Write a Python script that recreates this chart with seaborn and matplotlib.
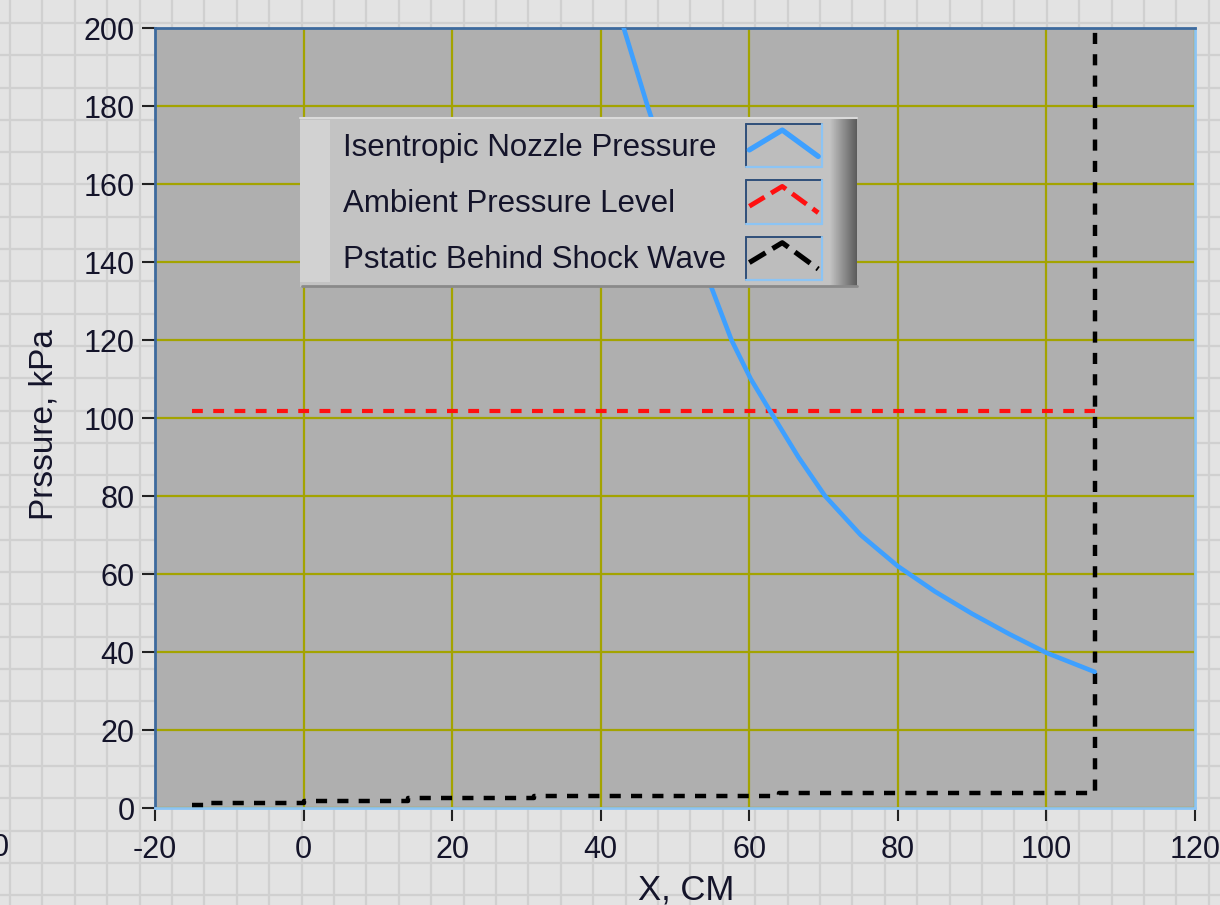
import seaborn as sns
import matplotlib.pyplot as plt
import pandas as pd
import numpy as np
from matplotlib.legend_handler import HandlerLine2D
from matplotlib.lines import Line2D
from matplotlib.patches import Rectangle

# isentropic nozzle pressure along the nozzle
nozzle_x = [43.1, 46.3, 49.8, 53.6, 57.6, 60.2, 62.8, 66.6, 70.2, 75.0, 80.0, 85.0, 90.0, 95.0, 100.0, 106.5]
nozzle_p = [200.0, 180.0, 160.0, 140.0, 120.0, 110.0, 101.8, 90.0, 80.0, 70.0, 62.0, 55.5, 49.8, 44.6, 39.8, 34.9]

# ambient pressure level
ambient_x = [-15.0, 106.5]
ambient_p = [101.8, 101.8]

# static pressure behind the shock wave (stepwise, then vertical at the exit)
shock_x = [-15.0, -13.0, 0.0, 14.0, 31.0, 64.0, 106.5, 106.5]
shock_p = [0.8, 1.3, 1.8, 2.5, 3.2, 3.8, 3.8, 200.0]

labels = ['Isentropic Nozzle Pressure', 'Ambient Pressure Level', 'Pstatic Behind Shock Wave']

df_noz = pd.DataFrame({'x': nozzle_x, 'p': nozzle_p})
df_amb = pd.DataFrame({'x': ambient_x, 'p': ambient_p})
df_sh = pd.DataFrame({'x': shock_x, 'p': shock_p})

sns.set_style('white')
plt.rcParams['font.family'] = ['Liberation Sans', 'DejaVu Sans']
plt.rcParams['axes.unicode_minus'] = False

W, H = 1220, 905
DPI = 100
fig = plt.figure(figsize=(W / DPI, H / DPI), dpi=DPI)
fig.patch.set_facecolor('#e3e3e3')

# panel background with its light grid
bg = fig.add_axes([0, 0, 1, 1], zorder=0)
bg.set_xlim(0, W)
bg.set_ylim(H, 0)
for gx in np.arange(10, W, 32.4):
    bg.axvline(gx, color='#d0d0d0', lw=1.6)
for gy in np.arange(23, H, 32.3):
    bg.axhline(gy, color='#d0d0d0', lw=1.6)
bg.axis('off')

ax = fig.add_axes([155 / W, 1 - 808 / H, (1195 - 155) / W, (808 - 28) / H], zorder=1)
ax.set_facecolor('#afafaf')

sns.lineplot(data=df_noz, x='x', y='p', ax=ax, color='#3ea0ff', lw=3.3,
             sort=False, estimator=None, label=labels[0], zorder=4)
sns.lineplot(data=df_amb, x='x', y='p', ax=ax, color='#ff1010', lw=3.0,
             linestyle=(0, (2.6, 2.5)), sort=False, estimator=None, label=labels[1], zorder=3)
sns.lineplot(data=df_sh, x='x', y='p', ax=ax, color='black', lw=3.2,
             linestyle=(0, (2.5, 2.3)), drawstyle='steps-post', sort=False, estimator=None,
             label=labels[2], zorder=3)

ax.set_xlim(-20, 120)
ax.set_ylim(0, 200)
ax.set_xticks(np.arange(-20, 121, 20))
ax.set_yticks(np.arange(0, 201, 20))
ax.grid(True, color='#a3a300', lw=1.6)
ax.set_axisbelow(True)
ax.tick_params(axis='both', which='major', bottom=True, left=True, direction='out',
               width=1.5, color='#222222', labelsize=22, labelcolor='#14142a')
ax.tick_params(axis='y', length=9.5, pad=5.0)
ax.tick_params(axis='x', length=9.5, pad=10.0)

for side in ['left', 'top']:
    ax.spines[side].set_color('#3d6a9e')
    ax.spines[side].set_linewidth(2)
for side in ['right', 'bottom']:
    ax.spines[side].set_color('#8cc4f4')
    ax.spines[side].set_linewidth(2)

ax.set_xlabel('X, CM', fontsize=25, color='#14142a')
ax.set_ylabel('Prssure, kPa', fontsize=24, color='#14142a')
ax.xaxis.set_label_coords(0.5106, -0.0846)
ax.yaxis.set_label_coords(-0.0914, 0.492)

# clipped tick label at the far left edge of the panel
fig.text(0.0, 1 - 848 / H, '0', fontsize=22, color='#14142a', ha='center', va='center')

# overlay for the 3D-looking legend plate
ov = fig.add_axes([0, 0, 1, 1], zorder=5)
ov.set_xlim(0, W)
ov.set_ylim(H, 0)
ov.axis('off')
ov.add_patch(Rectangle((300, 118), 557, 169, fc='#c3c3c3', ec='none', zorder=1))
ov.add_patch(Rectangle((300, 120), 30, 162, fc='#d2d2d2', ec='none', zorder=1.5))
ov.plot([300, 857], [118.5, 118.5], color='#dadada', lw=1.5, zorder=2)
ov.plot([302, 857], [286, 286], color='#8a8a8a', lw=2, zorder=2)
grad = np.linspace(0.76, 0.36, 40).reshape(1, -1)
ov.imshow(grad, extent=(830, 857, 286, 119), aspect='auto', cmap='gray', vmin=0, vmax=1, zorder=1.8)
ov.set_xlim(0, W)
ov.set_ylim(H, 0)


class CaretHandler(HandlerLine2D):
    def create_artists(self, legend, orig, xdescent, ydescent, width, height, fontsize, trans):
        x0, y0 = -xdescent, -ydescent
        box = Rectangle((x0, y0), width, height, fc='#bdbdbd', ec='none', transform=trans)
        top = Line2D([x0, x0 + width], [y0 + height] * 2, color='#2f4f7a', lw=1.4, transform=trans)
        left = Line2D([x0] * 2, [y0, y0 + height], color='#2f4f7a', lw=1.4, transform=trans)
        bot = Line2D([x0, x0 + width], [y0] * 2, color='#8cc4f4', lw=1.6, transform=trans)
        right = Line2D([x0 + width] * 2, [y0, y0 + height], color='#8cc4f4', lw=1.6, transform=trans)
        xs = [x0 + width * 0.05, x0 + width * 0.48, x0 + width * 0.95]
        ys = [y0 + height * 0.4, y0 + height * 0.86, y0 + height * 0.25]
        ln = Line2D(xs, ys, color=orig.get_color(), lw=orig.get_linewidth() * 1.15,
                    linestyle=orig.get_linestyle(), transform=trans)
        return [box, top, left, bot, right, ln]


handles, labs = ax.get_legend_handles_labels()
ax.get_legend().remove()
fs_leg = 22.5
leg = ov.legend(handles, labs, loc='upper left', bbox_to_anchor=(343 / W, 1 - 124 / H),
                bbox_transform=fig.transFigure, borderaxespad=0, borderpad=0,
                markerfirst=False, frameon=False, fontsize=fs_leg, handlelength=2.45,
                handleheight=1.75, handletextpad=0.62, labelspacing=0.42,
                handler_map={Line2D: CaretHandler()})
for t in leg.get_texts():
    t.set_color('#14142a')

# left-align the labels while keeping the symbol boxes in one column
fig.canvas.draw()
rend = fig.canvas.get_renderer()
widths = [t.get_window_extent(rend).width for t in leg.get_texts()]
rows = leg._legend_handle_box.get_children()[0].get_children()
for row, w in zip(rows, widths):
    row.sep = row.sep + (max(widths) - w) * 72 / DPI

fig.savefig('out.png', dpi=DPI, facecolor=fig.get_facecolor())
